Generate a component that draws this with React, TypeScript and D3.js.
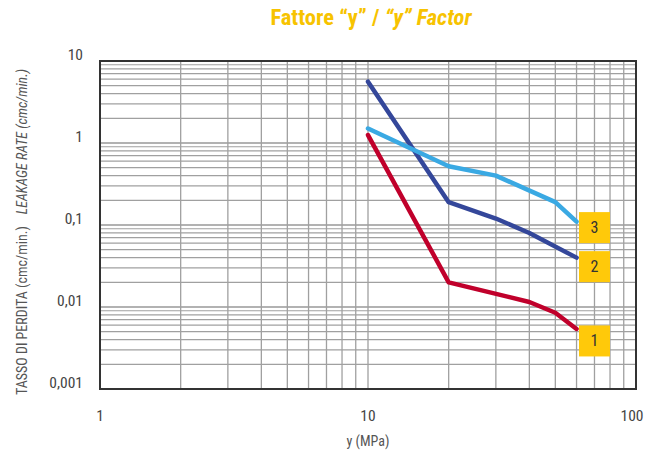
import React from "react";
import * as d3 from "d3";

const xTickLabels = ["1", "10", "100"];
const xTickValues = [1, 10, 100];
const yTickLabels = ["10", "1", "0,1", "0,01", "0,001"];
const yTickValues = [10, 1, 0.1, 0.01, 0.001];

const series1X = [10, 20, 40, 50, 60];
const series1Y = [1.25, 0.02, 0.0115, 0.0085, 0.0054];
const series2X = [10, 20, 30, 40, 60];
const series2Y = [5.6, 0.19, 0.12, 0.08, 0.04];
const series3X = [10, 20, 30, 50, 60];
const series3Y = [1.5, 0.52, 0.4, 0.19, 0.11];
const seriesLabels = ["1", "2", "3"];
const seriesColors = ["#c0002b", "#34479a", "#3aa9e3"];

const W = 652, H = 452;

export default function App() {
  const x = d3.scaleLog().domain([1, 100]).range([100, 636]);
  const y = d3.scaleLog().domain([0.001, 10]).range([389, 61]);

  const xGrid: number[] = [];
  for (const d of [1, 10]) for (let k = 2; k <= 9; k++) xGrid.push(k * d);
  xGrid.push(10);
  const yGrid: number[] = [];
  for (const d of [0.001, 0.01, 0.1, 1]) {
    for (let k = 2; k <= 9; k++) yGrid.push(k * d);
  }
  const yDecades = [0.01, 0.1, 1];

  const line = d3
    .line<[number, number]>()
    .x((d) => x(d[0]))
    .y((d) => y(d[1]));

  const series = [
    { xs: series1X, ys: series1Y },
    { xs: series2X, ys: series2Y },
    { xs: series3X, ys: series3Y },
  ];

  const font = "'Liberation Sans Narrow', 'Roboto Condensed', 'DejaVu Sans Condensed', sans-serif";

  return (
    <svg width={W} height={H} style={{ display: "block", position: "absolute", left: 0, top: 0 }}>
      <rect width={W} height={H} fill="#fff" />
      <text x={371} y={25} textAnchor="middle" fontFamily={font} fontWeight="bold" fontSize={22.5} fill="#f7c300">
        Fattore “y” / <tspan fontStyle="italic">“y” Factor</tspan>
      </text>
      {/* grid */}
      {yGrid.map((v, i) => (
        <line key={"yg" + i} x1={100} x2={636} y1={y(v)} y2={y(v)} stroke="#a0a0a0" strokeWidth={1.2} />
      ))}
      {yDecades.map((v, i) => (
        <line key={"yd" + i} x1={100} x2={636} y1={y(v)} y2={y(v)} stroke="#999" strokeWidth={1.5} />
      ))}
      {xGrid.map((v, i) => (
        <line key={"xg" + i} x1={x(v)} x2={x(v)} y1={61} y2={389} stroke="#a0a0a0" strokeWidth={1.3} />
      ))}
      <rect x={100} y={61} width={536} height={328} fill="none" stroke="#333" strokeWidth={2} />
      {/* series */}
      {series.map((s, i) => (
        <path
          key={"s" + i}
          d={line(s.xs.map((v, j) => [v, s.ys[j]] as [number, number])) || ""}
          fill="none"
          stroke={seriesColors[i]}
          strokeWidth={4.5}
          strokeLinecap="round"
          strokeLinejoin="round"
        />
      ))}
      {/* label boxes */}
      {series.map((s, i) => {
        const ly = y(s.ys[s.ys.length - 1]);
        const cy = i === 0 ? ly + 12 : i === 1 ? ly + 9 : ly + 6;
        return (
          <g key={"lb" + i}>
            <rect x={579} y={cy - 15.5} width={31} height={31} fill="#ffc90a" />
            <text x={594.5} y={cy + 5.5} textAnchor="middle" fontFamily={font} fontSize={16} fill="#333">
              {seriesLabels[i]}
            </text>
          </g>
        );
      })}
      {/* y ticks */}
      {yTickValues.map((v, i) => (
        <text key={"yt" + i} x={83} y={y(v) - 1} textAnchor="end" fontFamily={font} fontSize={15.5} fill="#444">
          {yTickLabels[i]}
        </text>
      ))}
      {xTickValues.map((v, i) => (
        <text key={"xt" + i} x={x(v) + (i === 2 ? -4 : 0)} y={421} textAnchor="middle" fontFamily={font} fontSize={15.5} fill="#444">
          {xTickLabels[i]}
        </text>
      ))}
      <text x={368} y={446} textAnchor="middle" fontFamily={font} fontSize={14} fill="#555">
        y (MPa)
      </text>
      <text
        transform="translate(27,232) rotate(-90)"
        textAnchor="middle"
        fontFamily={font}
        fontSize={14}
        fill="#555"
      >
        TASSO DI PERDITA (cmc/min.)<tspan dx={12} fontStyle="italic">LEAKAGE RATE (cmc/min.)</tspan>
      </text>
    </svg>
  );
}
